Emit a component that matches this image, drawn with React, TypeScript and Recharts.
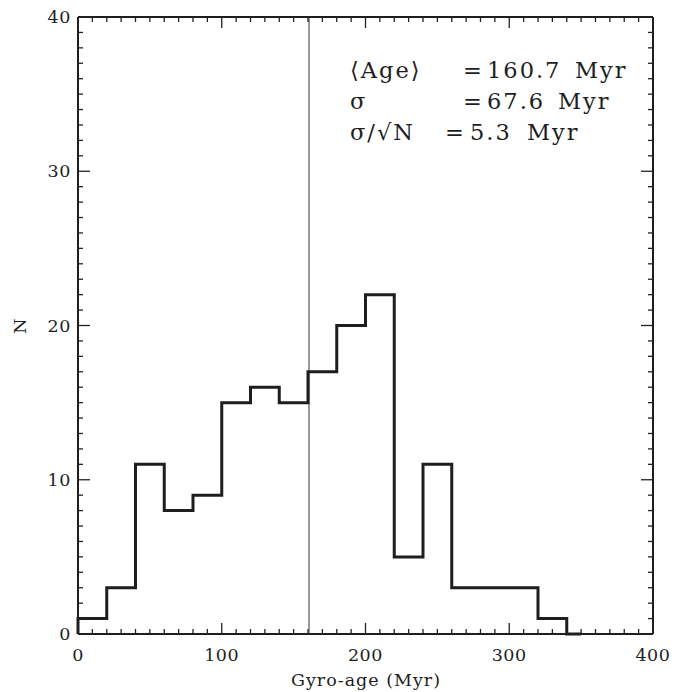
import React from 'react';
import { ComposedChart, Line, XAxis, YAxis, ReferenceLine, Customized } from 'recharts';

// Histogram: left bin edges (Myr) and counts per 20 Myr bin
const binEdges = [0, 20, 40, 60, 80, 100, 120, 140, 160, 180, 200, 220, 240, 260, 280, 300, 320, 340];
const binCounts = [1, 3, 11, 8, 9, 15, 16, 15, 17, 20, 22, 5, 11, 3, 3, 3, 1, 0];
const histEnd = 350;
const meanAge = 160.7;

const xTicks = Array.from({ length: 41 }, (_, i) => i * 10);
const xMajor = [0, 100, 200, 300, 400];
const yTicks = Array.from({ length: 41 }, (_, i) => i);
const yMajor = [0, 10, 20, 30, 40];

const statLines = [
  { name: '⟨Age⟩', eqX: 463, value: '160.7', valX: 487, unitX: 575 },
  { name: 'σ', eqX: 463, value: '67.6', valX: 487, unitX: 558 },
  { name: 'σ/√N', eqX: 445, value: '5.3', valX: 470, unitX: 527 },
];

const data = [
  { age: binEdges[0], n: 0 },
  ...binEdges.map((e, i) => ({ age: e, n: binCounts[i] })),
  { age: histEnd, n: binCounts[binCounts.length - 1] },
];

const W = 675;
const H = 692;
const M = { top: 17, right: 22, bottom: 0, left: 0 };
const Y_AXIS_W = 78;
const X_AXIS_H = 58;
const PLOT_TOP = M.top;
const PLOT_RIGHT = W - M.right;

const FONT = '"DejaVu Serif", "Liberation Serif", serif';
const INK = '#1e1e1e';
const TICK = '#222';

const XTick = (props: any) => {
  const x = Number(props.x);
  const y = Number(props.y);
  const v = props.payload.value;
  const major = xMajor.includes(v);
  const len = major ? 11 : 5;
  return (
    <g>
      <path d={`M${x},${y}V${y - len}`} stroke={TICK} strokeWidth={1.3} fill="none" />
      <path d={`M${x},${PLOT_TOP}V${PLOT_TOP + len}`} stroke={TICK} strokeWidth={1.3} fill="none" />
      {major && (
        <text x={x} y={y + 27} textAnchor="middle" fontFamily={FONT} fontSize={17.5} letterSpacing={0.6} fill={INK}>
          {v}
        </text>
      )}
    </g>
  );
};

const YTick = (props: any) => {
  const x = Number(props.x);
  const y = Number(props.y);
  const v = props.payload.value;
  const major = yMajor.includes(v);
  const len = major ? 12 : 5;
  return (
    <g>
      <path d={`M${x},${y}H${x + len}`} stroke={TICK} strokeWidth={1.3} fill="none" />
      <path d={`M${PLOT_RIGHT},${y}H${PLOT_RIGHT - len}`} stroke={TICK} strokeWidth={1.3} fill="none" />
      {major && (
        <text x={x - 7} y={y + 6} textAnchor="end" fontFamily={FONT} fontSize={17.5} letterSpacing={0.6} fill={INK}>
          {v}
        </text>
      )}
    </g>
  );
};

const Annotations = () => (
  <g fontFamily={FONT} fill={INK}>
    {statLines.map((s, i) => {
      const yy = 78 + i * 31;
      return (
        <g key={i} fontSize={22.5} letterSpacing={2}>
          <text x={350} y={yy}>{s.name}</text>
          <text x={s.eqX} y={yy}>=</text>
          <text x={s.valX} y={yy}>{s.value}</text>
          <text x={s.unitX} y={yy}>Myr</text>
        </g>
      );
    })}
    <text x={366} y={686} textAnchor="middle" fontSize={17.5} letterSpacing={1}>Gyro-age (Myr)</text>
    <text x={0} y={0} transform="translate(26,326) rotate(-90)" textAnchor="middle" fontSize={17.5}>N</text>
  </g>
);

export default function App() {
  return (
    <div style={{ position: 'absolute', left: 0, top: 0, width: W, height: H, background: '#fff' }}>
      <ComposedChart width={W} height={H} data={data} margin={M}>
        <XAxis
          dataKey="age"
          type="number"
          domain={[0, 400]}
          ticks={xTicks}
          interval={0}
          height={X_AXIS_H}
          tickSize={0}
          tickMargin={0}
          tickLine={false}
          axisLine={{ stroke: INK, strokeWidth: 2 }}
          tick={<XTick />}
        />
        <YAxis
          type="number"
          domain={[0, 40]}
          ticks={yTicks}
          interval={0}
          width={Y_AXIS_W}
          tickSize={0}
          tickMargin={0}
          tickLine={false}
          axisLine={{ stroke: INK, strokeWidth: 2 }}
          tick={<YTick />}
        />
        <ReferenceLine y={40} stroke={INK} strokeWidth={2} />
        <ReferenceLine x={400} stroke={INK} strokeWidth={2} />
        <ReferenceLine x={meanAge} stroke="#333" strokeWidth={1} />
        <Line
          type="stepAfter"
          dataKey="n"
          stroke={INK}
          strokeWidth={3}
          dot={false}
          isAnimationActive={false}
          strokeLinejoin="miter"
          strokeLinecap="butt"
        />
        <Customized component={<Annotations />} />
      </ComposedChart>
    </div>
  );
}
